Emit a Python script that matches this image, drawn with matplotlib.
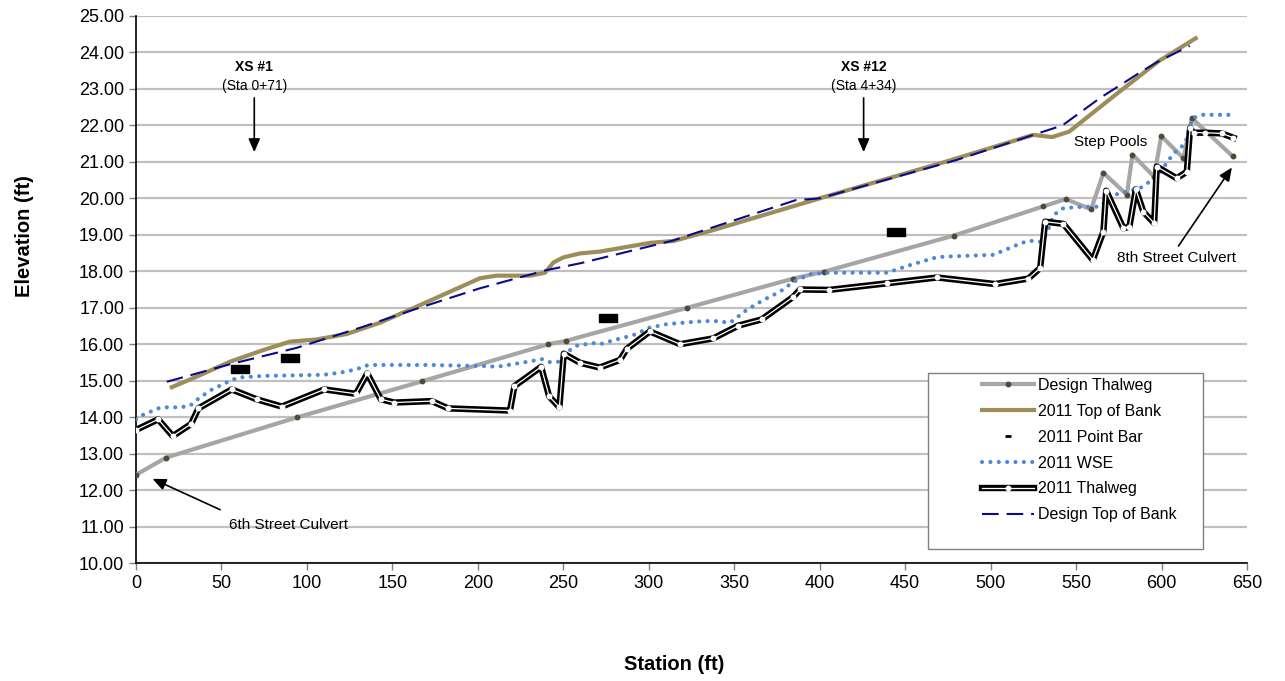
import matplotlib
matplotlib.use("Agg")
import matplotlib.pyplot as plt
from matplotlib.lines import Line2D
from matplotlib.path import Path
from matplotlib.patches import Rectangle

plt.rcParams['font.family'] = ['Liberation Sans', 'DejaVu Sans']

# Design Thalweg
dt_sta = [0, 17.6, 94, 167.2, 241.3, 251.4, 322.6, 384.6, 402.6, 478.6, 530.9, 544,
          558.8, 566, 579.7, 583, 595.7, 599.8, 612.8, 617.7, 641.7]
dt_elev = [12.42, 12.89, 13.99, 14.98, 16.0, 16.09, 17.0, 17.8, 17.99, 18.98, 19.78, 19.98,
           19.7, 20.7, 20.1, 21.2, 20.59, 21.71, 21.1, 22.2, 21.15]

# 2011 Top of Bank
tob_sta = [20.9, 35.5, 55, 74.5, 90, 105.7, 123.3, 142.8, 162.3, 181.8, 201.3, 211, 230.5,
           239.3, 244.2, 250, 259.8, 271.5, 300.8, 314.4, 337.8, 402.2, 472, 525, 536, 546,
           572, 598, 620]
tob_elev = [14.82, 15.11, 15.52, 15.84, 16.07, 16.13, 16.28, 16.59, 16.99, 17.4, 17.81, 17.88,
            17.88, 17.96, 18.24, 18.38, 18.49, 18.54, 18.78, 18.83, 19.13, 20.03, 20.98, 21.74,
            21.68, 21.83, 22.8, 23.75, 24.39]

# 2011 Point Bar
pb_sta = [60.9, 90.1, 276.4, 444.5]
pb_elev = [15.31, 15.61, 16.71, 19.07]

# 2011 WSE
wse_sta = [0, 4, 13, 18, 25.7, 31.6, 35.5, 43.3, 52.1, 56, 60.9, 74.5, 109.6, 119.4, 129.1,
           134, 138.9, 172, 191.5, 206, 211, 225.7, 237.4, 241.9, 247.1, 254, 257.9, 267.6,
           271.5, 276.4, 291, 300.4, 310.5, 328.1, 337.8, 347.6, 357.3, 367, 376.8, 384.6,
           394.4, 405.1, 439.3, 452.9, 466.5, 472.4, 501.6, 515.3, 522.1, 529, 532.9, 536.8,
           542.6, 554.3, 564.1, 571.9, 587.5, 597.2, 607, 613.8, 618.3, 623.6, 639.2]
wse_elev = [13.94, 14.06, 14.24, 14.27, 14.27, 14.31, 14.47, 14.73, 14.93, 15.02, 15.09, 15.13,
            15.16, 15.22, 15.31, 15.41, 15.43, 15.43, 15.41, 15.4, 15.38, 15.49, 15.59, 15.51,
            15.52, 15.84, 15.96, 16.03, 16.0, 16.07, 16.25, 16.45, 16.55, 16.62, 16.64, 16.59,
            16.94, 17.21, 17.44, 17.71, 17.92, 17.96, 17.96, 18.17, 18.36, 18.4, 18.45, 18.72,
            18.84, 18.81, 19.04, 19.54, 19.73, 19.77, 19.77, 20.09, 20.28, 20.59, 21.23, 21.5,
            22.2, 22.29, 22.29]

# 2011 Thalweg
tw_sta = [0, 13, 21.5, 32.2, 36.5, 56, 70.6, 85.3, 110.2, 128.7, 135.3, 143.2, 151.1, 173,
          182.7, 218.8, 221.4, 237, 241.7, 247.7, 250.3, 259.8, 271.3, 283.2, 287.1, 300.6,
          318.3, 337.8, 352.4, 366.1, 384.6, 388.5, 405.7, 439.4, 468.7, 502.6, 522.1, 529,
          531.9, 542.6, 559.8, 566, 567.6, 577.7, 581.2, 585, 589.4, 595.7, 597.2, 608.9,
          614.8, 616.7, 618.7, 625.5, 635.3, 642.1]
tw_elev = [13.65, 13.94, 13.48, 13.81, 14.24, 14.76, 14.49, 14.29, 14.76, 14.64, 15.2, 14.49,
           14.4, 14.44, 14.24, 14.18, 14.85, 15.38, 14.57, 14.27, 15.74, 15.49, 15.36, 15.57,
           15.87, 16.35, 16.0, 16.16, 16.51, 16.68, 17.3, 17.5, 17.49, 17.67, 17.83, 17.65,
           17.8, 18.09, 19.36, 19.3, 18.31, 19.09, 20.21, 19.18, 19.22, 20.25, 19.63, 19.32,
           20.87, 20.55, 20.73, 21.92, 21.8, 21.8, 21.78, 21.66]

# Design Top of Bank
dtob_sta = [18, 55, 94, 133, 162, 201, 240, 260, 314, 330, 386, 400, 480, 525, 542, 564,
            588, 598, 616.5]
dtob_elev = [14.97, 15.45, 15.9, 16.48, 16.94, 17.53, 18.03, 18.22, 18.84, 19.09, 19.95,
             20.0, 21.05, 21.74, 22.0, 22.75, 23.47, 23.75, 24.18]

c_dt = '#A6A6A6'
c_dtm = '#4F4A38'
c_tob = '#9C8D5A'
c_wse = '#4F88D9'
c_dtob = '#0A0A8C'

fig = plt.figure(figsize=(12.85, 6.81), dpi=100)
ax = fig.add_axes([136 / 1285, 118 / 681, 1111 / 1285, 547 / 681])

ax.plot(dt_sta, dt_elev, color=c_dt, lw=3, marker='o', ms=3.2, mfc=c_dtm, mec=c_dtm, zorder=3)
ax.plot(tob_sta, tob_elev, color=c_tob, lw=3, solid_joinstyle='round', zorder=3.1)
bar = Path([(-1, -0.42), (1, -0.42), (1, 0.42), (-1, 0.42), (-1, -0.42)],
           [Path.MOVETO, Path.LINETO, Path.LINETO, Path.LINETO, Path.CLOSEPOLY])
ax.plot(pb_sta, pb_elev, ls='none', marker=bar, ms=12.5, color='black', zorder=3.2)
ax.plot(wse_sta, wse_elev, color=c_wse, lw=3, ls=(0, (0.01, 2.0)), dash_capstyle='round',
        zorder=3.3)
ax.plot(tw_sta, tw_elev, color='black', lw=4.6, solid_joinstyle='round', zorder=3.4)
ax.plot(tw_sta, tw_elev, color='white', lw=0.9, marker='o', ms=3.2, mfc='white', mec='white',
        zorder=3.5)
ax.plot(dtob_sta, dtob_elev, color=c_dtob, lw=1.5, ls=(0, (8, 3.8)), zorder=3.6)

ax.set_xlim(0, 650)
ax.set_ylim(10, 25)
ax.set_xticks(range(0, 651, 50))
ax.set_yticks(range(10, 26))
ax.set_yticklabels(['%.2f' % v for v in range(10, 26)])
ax.tick_params(labelsize=13, length=5, color='#808080', width=1)
ax.yaxis.grid(True, color='#C0C0C0', lw=1.6)
ax.set_axisbelow(True)
for s in ['top', 'right']:
    ax.spines[s].set_visible(False)
ax.spines['left'].set_linewidth(1.2)
ax.spines['bottom'].set_linewidth(1.2)

fig.text(25 / 1285, 1 - 236 / 681, 'Elevation (ft)', rotation=90, ha='center', va='center',
         fontsize=14.5, fontweight='bold')
fig.text(674 / 1285, 1 - 665 / 681, 'Station (ft)', ha='center', va='center',
         fontsize=14.5, fontweight='bold')

# annotations
arw = dict(arrowstyle='-|>,head_length=0.8,head_width=0.35', color='black', lw=1.2)
ax.text(69.2, 23.6, 'XS #1', ha='center', va='center', fontsize=10, fontweight='bold')
ax.text(69.2, 23.08, '(Sta 0+71)', ha='center', va='center', fontsize=10)
ax.annotate('', xy=(69.2, 21.19), xytext=(69.2, 22.83), arrowprops=arw)
ax.text(425.7, 23.6, 'XS #12', ha='center', va='center', fontsize=10, fontweight='bold')
ax.text(425.7, 23.08, '(Sta 4+34)', ha='center', va='center', fontsize=10)
ax.annotate('', xy=(425.7, 21.19), xytext=(425.7, 22.83), arrowprops=arw)
ax.text(570.3, 21.55, 'Step Pools', ha='center', va='center', fontsize=11)
ax.text(609, 18.36, '8th Street Culvert', ha='center', va='center', fontsize=11)
ax.annotate('', xy=(642.1, 20.91), xytext=(609, 18.63), arrowprops=arw)
ax.text(89.1, 11.04, '6th Street Culvert', ha='center', va='center', fontsize=11)
ax.annotate('', xy=(8.2, 12.34), xytext=(50.7, 11.43), arrowprops=arw)

# legend
fig.patches.append(Rectangle((928 / 1285, 1 - 549 / 681), 275 / 1285, 176 / 681,
                             transform=fig.transFigure, facecolor='white',
                             edgecolor='#808080', lw=1, zorder=4))
handles = [
    Line2D([], [], color=c_dt, lw=3, marker='o', ms=3.2, mfc=c_dtm, mec=c_dtm),
    Line2D([], [], color=c_tob, lw=3),
    Line2D([], [], ls='none', marker='_', color='black', ms=5, mew=2),
    Line2D([], [], color=c_wse, lw=3, ls=(0, (0.01, 2.0)), dash_capstyle='round'),
    (Line2D([], [], color='black', lw=4.6),
     Line2D([], [], color='white', lw=0.9, marker='o', ms=3.2, mfc='white', mec='white')),
    Line2D([], [], color=c_dtob, lw=1.5, ls=(0, (8, 3.8))),
]
labels = ['Design Thalweg', '2011 Top of Bank', '2011 Point Bar', '2011 WSE',
          '2011 Thalweg', 'Design Top of Bank']
leg = fig.legend(handles, labels, loc='upper left', bbox_to_anchor=(982 / 1285, 1 - 378 / 681),
                 frameon=False, fontsize=11.5, borderpad=0, borderaxespad=0,
                 handlelength=3.25, handletextpad=0.25, labelspacing=0.68)
leg.set_zorder(5)

fig.savefig('out.png', dpi=100)
